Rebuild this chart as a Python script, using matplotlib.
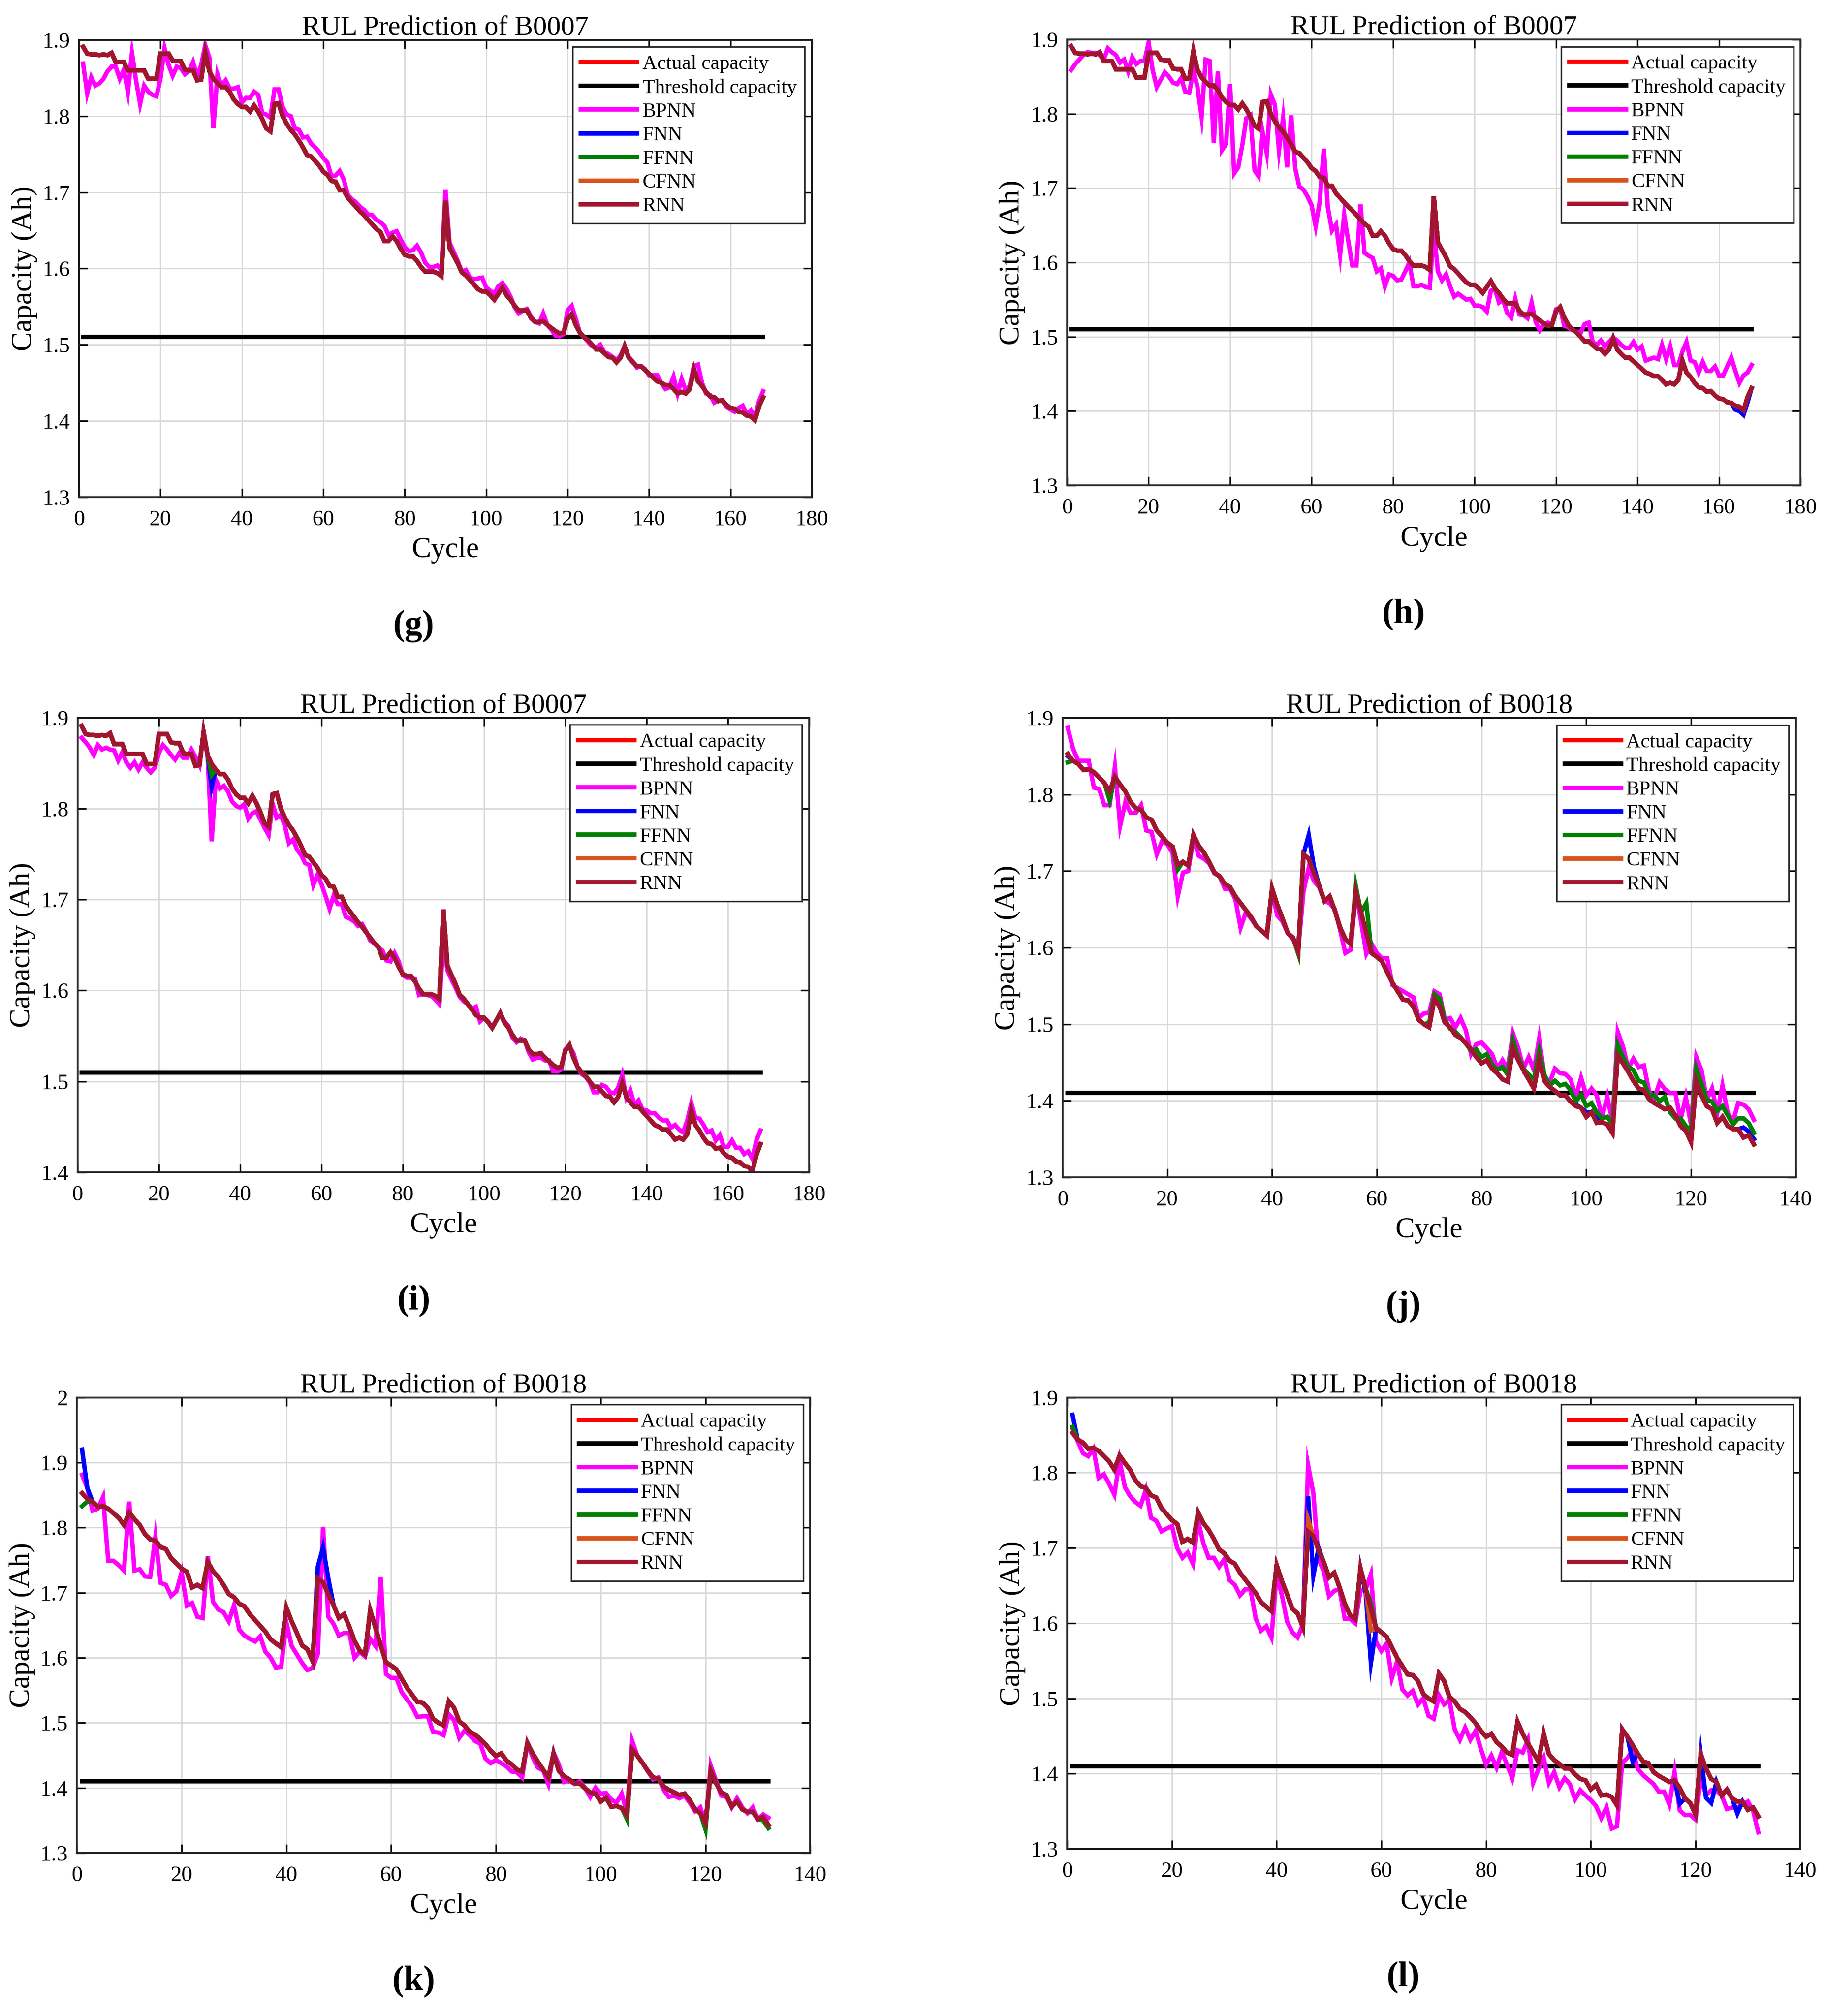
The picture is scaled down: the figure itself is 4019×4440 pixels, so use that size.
import matplotlib
matplotlib.use("Agg")
import matplotlib.pyplot as plt
from matplotlib.ticker import MultipleLocator, FuncFormatter

plt.rcParams['font.family'] = ['Liberation Serif', 'DejaVu Serif']

# ---------------- data ----------------
# measured capacity of battery B0007, cycles 1..168
cap_b0007 = [
    1.891, 1.882, 1.881, 1.881, 1.880, 1.881, 1.880, 1.883, 1.871, 1.871,
    1.871, 1.860, 1.860, 1.860, 1.860, 1.860, 1.849, 1.849, 1.849, 1.882,
    1.882, 1.882, 1.873, 1.872, 1.872, 1.861, 1.860, 1.860, 1.847, 1.848,
    1.884, 1.859, 1.849, 1.843, 1.838, 1.838, 1.832, 1.822, 1.816, 1.812,
    1.812, 1.806, 1.814, 1.806, 1.796, 1.784, 1.780, 1.816, 1.817, 1.800,
    1.790, 1.782, 1.776, 1.768, 1.759, 1.749, 1.747, 1.741, 1.735, 1.727,
    1.723, 1.715, 1.714, 1.703, 1.703, 1.693, 1.687, 1.681, 1.675, 1.670,
    1.664, 1.658, 1.652, 1.648, 1.636, 1.636, 1.642, 1.636, 1.626, 1.618,
    1.616, 1.616, 1.610, 1.602, 1.596, 1.596, 1.596, 1.594, 1.590, 1.689,
    1.627, 1.617, 1.607, 1.595, 1.591, 1.585, 1.579, 1.573, 1.570, 1.570,
    1.565, 1.559, 1.567, 1.575, 1.565, 1.559, 1.551, 1.545, 1.545, 1.545,
    1.535, 1.530, 1.530, 1.531, 1.526, 1.522, 1.518, 1.515, 1.516, 1.534,
    1.540, 1.526, 1.516, 1.510, 1.506, 1.500, 1.494, 1.494, 1.489, 1.484,
    1.483, 1.477, 1.483, 1.498, 1.483, 1.477, 1.472, 1.472, 1.467, 1.462,
    1.457, 1.452, 1.450, 1.447, 1.447, 1.442, 1.436, 1.438, 1.436, 1.442,
    1.468, 1.452, 1.446, 1.438, 1.432, 1.431, 1.426, 1.427, 1.421, 1.417,
    1.416, 1.412, 1.411, 1.407, 1.406, 1.401, 1.419, 1.431,
]

# measured capacity of battery B0018, cycles 1..132
cap_b0018 = [
    1.853, 1.844, 1.840, 1.832, 1.833, 1.829, 1.822, 1.815, 1.804, 1.823,
    1.813, 1.804, 1.790, 1.782, 1.780, 1.770, 1.767, 1.753, 1.745, 1.737,
    1.732, 1.708, 1.712, 1.707, 1.747, 1.733, 1.724, 1.712, 1.698, 1.693,
    1.683, 1.679, 1.667, 1.658, 1.649, 1.640, 1.628, 1.622, 1.616, 1.677,
    1.656, 1.638, 1.619, 1.613, 1.595, 1.722, 1.716, 1.697, 1.681, 1.661,
    1.667, 1.648, 1.626, 1.611, 1.605, 1.673, 1.646, 1.619, 1.593, 1.588,
    1.582, 1.568, 1.554, 1.543, 1.532, 1.531, 1.523, 1.506, 1.500, 1.496,
    1.533, 1.523, 1.502, 1.496, 1.486, 1.482, 1.475, 1.467, 1.457, 1.449,
    1.453, 1.442, 1.436, 1.428, 1.425, 1.469, 1.453, 1.440, 1.428, 1.416,
    1.453, 1.426, 1.418, 1.413, 1.407, 1.407, 1.399, 1.393, 1.391, 1.379,
    1.385, 1.371, 1.372, 1.369, 1.358, 1.459, 1.449, 1.438, 1.426, 1.416,
    1.414, 1.402, 1.397, 1.393, 1.389, 1.391, 1.381, 1.367, 1.361, 1.346,
    1.426, 1.407, 1.393, 1.389, 1.371, 1.379, 1.367, 1.363, 1.363, 1.352,
    1.355, 1.343,
]

threshold_b0007 = 1.51
threshold_b0018 = 1.41

# BPNN predictions, one list per panel
bpnn_g = [
    1.869, 1.830, 1.851, 1.840, 1.843, 1.849, 1.859, 1.865, 1.865, 1.849,
    1.861, 1.832, 1.883, 1.847, 1.816, 1.840, 1.832, 1.828, 1.826, 1.849,
    1.889, 1.867, 1.853, 1.865, 1.863, 1.855, 1.859, 1.871, 1.853, 1.867,
    1.893, 1.877, 1.784, 1.855, 1.840, 1.847, 1.836, 1.836, 1.838, 1.818,
    1.824, 1.824, 1.832, 1.828, 1.804, 1.802, 1.798, 1.835, 1.835, 1.812,
    1.802, 1.800, 1.784, 1.782, 1.772, 1.773, 1.764, 1.759, 1.753, 1.745,
    1.739, 1.721, 1.722, 1.728, 1.717, 1.697, 1.691, 1.687, 1.681, 1.677,
    1.671, 1.670, 1.664, 1.661, 1.656, 1.644, 1.647, 1.649, 1.638, 1.628,
    1.623, 1.624, 1.630, 1.621, 1.608, 1.602, 1.602, 1.604, 1.598, 1.703,
    1.634, 1.622, 1.610, 1.596, 1.598, 1.588, 1.586, 1.587, 1.588, 1.575,
    1.571, 1.567, 1.577, 1.581, 1.573, 1.563, 1.549, 1.541, 1.545, 1.547,
    1.537, 1.530, 1.528, 1.541, 1.526, 1.520, 1.512, 1.511, 1.514, 1.545,
    1.551, 1.534, 1.516, 1.510, 1.504, 1.498, 1.496, 1.500, 1.490, 1.488,
    1.484, 1.480, 1.486, 1.498, 1.484, 1.478, 1.470, 1.472, 1.468, 1.460,
    1.460, 1.460, 1.450, 1.442, 1.444, 1.458, 1.436, 1.455, 1.440, 1.446,
    1.472, 1.474, 1.450, 1.436, 1.434, 1.424, 1.427, 1.426, 1.419, 1.415,
    1.412, 1.417, 1.420, 1.409, 1.414, 1.405, 1.426, 1.439,
]

bpnn_h = [
    1.859, 1.867, 1.873, 1.879, 1.883, 1.882, 1.882, 1.879, 1.873, 1.888,
    1.883, 1.879, 1.869, 1.873, 1.857, 1.876, 1.867, 1.871, 1.871, 1.896,
    1.859, 1.836, 1.846, 1.856, 1.850, 1.842, 1.840, 1.848, 1.830, 1.829,
    1.859, 1.836, 1.796, 1.873, 1.871, 1.761, 1.857, 1.751, 1.759, 1.840,
    1.720, 1.728, 1.758, 1.794, 1.798, 1.724, 1.716, 1.775, 1.747, 1.826,
    1.812, 1.751, 1.794, 1.728, 1.798, 1.726, 1.702, 1.698, 1.689, 1.677,
    1.649, 1.682, 1.753, 1.674, 1.643, 1.651, 1.610, 1.664, 1.629, 1.596,
    1.596, 1.678, 1.613, 1.609, 1.606, 1.588, 1.592, 1.568, 1.584, 1.582,
    1.576, 1.577, 1.588, 1.600, 1.568, 1.568, 1.570, 1.567, 1.566, 1.643,
    1.588, 1.576, 1.584, 1.568, 1.554, 1.558, 1.554, 1.550, 1.551, 1.542,
    1.542, 1.540, 1.534, 1.562, 1.564, 1.546, 1.550, 1.532, 1.526, 1.551,
    1.530, 1.529, 1.525, 1.546, 1.520, 1.509, 1.517, 1.519, 1.517, 1.537,
    1.539, 1.515, 1.513, 1.509, 1.507, 1.505, 1.517, 1.519, 1.493, 1.489,
    1.495, 1.487, 1.493, 1.499, 1.495, 1.489, 1.485, 1.485, 1.493, 1.483,
    1.487, 1.468, 1.470, 1.472, 1.470, 1.489, 1.470, 1.487, 1.462, 1.462,
    1.480, 1.493, 1.468, 1.466, 1.452, 1.466, 1.454, 1.454, 1.460, 1.448,
    1.448, 1.460, 1.472, 1.454, 1.438, 1.448, 1.452, 1.462,
]

bpnn_i = [
    1.878, 1.873, 1.867, 1.859, 1.870, 1.865, 1.867, 1.865, 1.864, 1.853,
    1.862, 1.851, 1.845, 1.851, 1.843, 1.851, 1.845, 1.840, 1.845, 1.861,
    1.870, 1.865, 1.859, 1.854, 1.861, 1.856, 1.856, 1.865, 1.857, 1.848,
    1.884, 1.857, 1.764, 1.832, 1.822, 1.825, 1.819, 1.808, 1.803, 1.801,
    1.805, 1.789, 1.795, 1.797, 1.788, 1.779, 1.771, 1.805, 1.790, 1.793,
    1.781, 1.762, 1.766, 1.755, 1.749, 1.740, 1.738, 1.716, 1.727, 1.717,
    1.704, 1.690, 1.704, 1.695, 1.695, 1.681, 1.679, 1.676, 1.671, 1.673,
    1.665, 1.655, 1.652, 1.647, 1.644, 1.633, 1.632, 1.641, 1.632, 1.617,
    1.614, 1.614, 1.613, 1.595, 1.596, 1.595, 1.594, 1.590, 1.585, 1.653,
    1.622, 1.612, 1.603, 1.593, 1.588, 1.585, 1.580, 1.582, 1.566, 1.570,
    1.566, 1.559, 1.567, 1.574, 1.566, 1.561, 1.548, 1.543, 1.547, 1.545,
    1.532, 1.524, 1.526, 1.526, 1.523, 1.523, 1.511, 1.511, 1.513, 1.535,
    1.539, 1.531, 1.516, 1.508, 1.505, 1.499, 1.488, 1.488, 1.496, 1.494,
    1.488, 1.487, 1.493, 1.507, 1.482, 1.490, 1.474, 1.479, 1.469, 1.468,
    1.465, 1.465, 1.460, 1.457, 1.457, 1.449, 1.452, 1.447, 1.444, 1.457,
    1.476, 1.460, 1.459, 1.452, 1.444, 1.446, 1.435, 1.441, 1.428, 1.428,
    1.435, 1.427, 1.427, 1.420, 1.423, 1.415, 1.435, 1.446,
]

bpnn_j = [
    1.887, 1.860, 1.844, 1.844, 1.844, 1.809, 1.807, 1.786, 1.786, 1.836,
    1.759, 1.790, 1.776, 1.776, 1.786, 1.753, 1.751, 1.722, 1.739, 1.735,
    1.724, 1.667, 1.698, 1.700, 1.743, 1.720, 1.716, 1.710, 1.697, 1.693,
    1.677, 1.677, 1.663, 1.626, 1.646, 1.638, 1.628, 1.622, 1.617, 1.673,
    1.642, 1.634, 1.619, 1.611, 1.597, 1.673, 1.704, 1.687, 1.679, 1.661,
    1.658, 1.650, 1.623, 1.593, 1.597, 1.673, 1.634, 1.592, 1.605, 1.593,
    1.586, 1.586, 1.551, 1.547, 1.543, 1.539, 1.535, 1.508, 1.514, 1.515,
    1.543, 1.539, 1.506, 1.508, 1.496, 1.508, 1.492, 1.461, 1.474, 1.476,
    1.469, 1.461, 1.442, 1.453, 1.442, 1.488, 1.469, 1.442, 1.457, 1.440,
    1.481, 1.432, 1.424, 1.442, 1.436, 1.435, 1.428, 1.405, 1.430, 1.407,
    1.416, 1.407, 1.379, 1.405, 1.373, 1.490, 1.471, 1.442, 1.455, 1.444,
    1.446, 1.412, 1.403, 1.424, 1.415, 1.410, 1.410, 1.375, 1.405, 1.369,
    1.457, 1.440, 1.401, 1.416, 1.384, 1.420, 1.384, 1.373, 1.397, 1.395,
    1.389, 1.375,
]

bpnn_k = [
    1.881, 1.861, 1.826, 1.829, 1.847, 1.749, 1.749, 1.742, 1.734, 1.840,
    1.734, 1.736, 1.725, 1.724, 1.786, 1.715, 1.712, 1.695, 1.702, 1.731,
    1.680, 1.684, 1.663, 1.661, 1.756, 1.686, 1.674, 1.670, 1.656, 1.681,
    1.643, 1.634, 1.629, 1.625, 1.633, 1.609, 1.600, 1.585, 1.586, 1.654,
    1.618, 1.605, 1.592, 1.581, 1.584, 1.606, 1.801, 1.663, 1.652, 1.634,
    1.638, 1.638, 1.600, 1.609, 1.602, 1.629, 1.618, 1.724, 1.575, 1.569,
    1.569, 1.547, 1.536, 1.525, 1.509, 1.510, 1.510, 1.486, 1.485, 1.481,
    1.513, 1.504, 1.477, 1.488, 1.481, 1.472, 1.468, 1.445, 1.438, 1.443,
    1.438, 1.433, 1.425, 1.424, 1.416, 1.468, 1.447, 1.431, 1.427, 1.406,
    1.454, 1.436, 1.409, 1.411, 1.406, 1.410, 1.400, 1.386, 1.400, 1.391,
    1.392, 1.382, 1.377, 1.391, 1.362, 1.472, 1.449, 1.438, 1.425, 1.413,
    1.416, 1.397, 1.386, 1.388, 1.384, 1.388, 1.377, 1.364, 1.370, 1.345,
    1.434, 1.411, 1.388, 1.386, 1.370, 1.384, 1.370, 1.361, 1.370, 1.352,
    1.359, 1.354,
]

bpnn_l = [
    1.859, 1.842, 1.826, 1.822, 1.832, 1.793, 1.798, 1.785, 1.771, 1.816,
    1.781, 1.769, 1.761, 1.756, 1.777, 1.740, 1.736, 1.722, 1.726, 1.729,
    1.700, 1.687, 1.694, 1.679, 1.736, 1.706, 1.687, 1.687, 1.675, 1.685,
    1.657, 1.651, 1.637, 1.645, 1.645, 1.606, 1.590, 1.596, 1.581, 1.665,
    1.637, 1.602, 1.588, 1.581, 1.598, 1.810, 1.773, 1.685, 1.669, 1.636,
    1.643, 1.645, 1.606, 1.606, 1.600, 1.643, 1.645, 1.665, 1.575, 1.563,
    1.573, 1.527, 1.549, 1.512, 1.504, 1.510, 1.492, 1.500, 1.477, 1.473,
    1.504, 1.492, 1.498, 1.459, 1.445, 1.461, 1.445, 1.457, 1.433, 1.412,
    1.424, 1.408, 1.429, 1.412, 1.394, 1.431, 1.428, 1.445, 1.388, 1.406,
    1.421, 1.388, 1.402, 1.382, 1.394, 1.386, 1.366, 1.378, 1.371, 1.365,
    1.357, 1.341, 1.355, 1.327, 1.330, 1.414, 1.421, 1.431, 1.406, 1.398,
    1.392, 1.386, 1.376, 1.376, 1.359, 1.402, 1.351, 1.345, 1.345, 1.339,
    1.394, 1.372, 1.378, 1.378, 1.371, 1.353, 1.355, 1.355, 1.359, 1.363,
    1.351, 1.322,
]

# cycles where FNN / FFNN / CFNN visibly leave the measured curve
fnn_h = {164: 1.402, 165: 1.400, 166: 1.395, 167: 1.412}
fnn_i = {33: 1.824}
ffnn_i = {33: 1.837}
fnn_j = {1: 1.850, 47: 1.747, 48: 1.705, 98: 1.395, 100: 1.385, 102: 1.377,
         105: 1.362, 118: 1.372, 120: 1.352, 130: 1.365, 131: 1.360, 132: 1.350}
ffnn_j = {1: 1.842, 9: 1.792, 22: 1.702, 45: 1.592, 56: 1.680, 58: 1.658,
          70: 1.502, 71: 1.539, 72: 1.533, 73: 1.506, 74: 1.494, 75: 1.490,
          76: 1.483, 77: 1.475, 78: 1.465, 79: 1.467, 80: 1.457, 81: 1.461,
          82: 1.447, 83: 1.440, 84: 1.444, 85: 1.434, 86: 1.479, 87: 1.457,
          88: 1.442, 89: 1.434, 90: 1.428, 91: 1.465, 92: 1.434, 93: 1.420,
          94: 1.426, 95: 1.420, 96: 1.422, 97: 1.414, 98: 1.399, 99: 1.408,
          100: 1.393, 101: 1.397, 102: 1.385, 103: 1.377, 104: 1.379,
          105: 1.369, 106: 1.473, 107: 1.457, 108: 1.444, 109: 1.440,
          110: 1.426, 111: 1.424, 112: 1.407, 113: 1.407, 114: 1.399,
          115: 1.405, 116: 1.385, 117: 1.377, 118: 1.377, 119: 1.367,
          120: 1.361, 121: 1.442, 122: 1.422, 123: 1.401, 124: 1.399,
          125: 1.387, 126: 1.393, 127: 1.381, 128: 1.369, 129: 1.377,
          130: 1.377, 131: 1.371, 132: 1.358}
fnn_k = {1: 1.920, 2: 1.861, 46: 1.740, 47: 1.770, 48: 1.722}
ffnn_k = {1: 1.833, 2: 1.840, 105: 1.352, 120: 1.336, 131: 1.350, 132: 1.338}
fnn_l = {1: 1.877, 46: 1.769, 47: 1.663, 48: 1.700, 57: 1.640, 58: 1.547,
         59: 1.594, 108: 1.416, 117: 1.360, 122: 1.368, 123: 1.361, 128: 1.347}
ffnn_l = {1: 1.861, 58: 1.626}
cfnn_l = {46: 1.738, 58: 1.590}

series_names = ['Actual capacity', 'Threshold capacity', 'BPNN', 'FNN',
                'FFNN', 'CFNN', 'RNN']
series_colors = ['#ff0000', '#000000', '#ff00ff', '#0000ff', '#007f00',
                 '#d95319', '#a2142f']


def with_changes(base, changes):
    vals = list(base)
    for cyc, v in changes.items():
        vals[cyc - 1] = v
    return vals


panels = [
    # label, rect, battery, bpnn, fnn, ffnn, cfnn, xmax, ylim
    ('(g)', [0.0433, 0.7534, 0.4016, 0.2268], 'B0007', bpnn_g, {}, {}, {}, 180, (1.3, 1.9)),
    ('(h)', [0.5847, 0.7592, 0.4019, 0.2212], 'B0007', bpnn_h, fnn_h, {}, {}, 180, (1.3, 1.9)),
    ('(i)', [0.0425, 0.4185, 0.4009, 0.2255], 'B0007', bpnn_i, fnn_i, ffnn_i, {}, 180, (1.4, 1.9)),
    ('(j)', [0.5822, 0.4160, 0.4018, 0.2279], 'B0018', bpnn_j, fnn_j, ffnn_j, {}, 140, (1.3, 1.9)),
    ('(k)', [0.0421, 0.0809, 0.4019, 0.2259], 'B0018', bpnn_k, fnn_k, ffnn_k, {}, 140, (1.3, 2.0)),
    ('(l)', [0.5848, 0.0829, 0.4016, 0.2239], 'B0018', bpnn_l, fnn_l, ffnn_l, cfnn_l, 140, (1.3, 1.9)),
]

fig = plt.figure(figsize=(40.19, 44.40), dpi=100)

for label, rect, battery, bpnn, fnn_d, ffnn_d, cfnn_d, xmax, ylim in panels:
    ax = fig.add_axes(rect)
    actual = cap_b0007 if battery == 'B0007' else cap_b0018
    thr = threshold_b0007 if battery == 'B0007' else threshold_b0018
    cycles = list(range(1, len(actual) + 1))

    ys = [actual, [thr] * len(actual), bpnn,
          with_changes(actual, fnn_d), with_changes(actual, ffnn_d),
          with_changes(actual, cfnn_d), actual]
    for name, color, y in zip(series_names, series_colors, ys):
        ax.plot(cycles, y, color=color, lw=7, label=name,
                solid_joinstyle='miter')

    ax.set_xlim(0, xmax)
    ax.set_ylim(*ylim)
    ax.xaxis.set_major_locator(MultipleLocator(20))
    ax.yaxis.set_major_locator(MultipleLocator(0.1))
    ax.yaxis.set_major_formatter(FuncFormatter(lambda v, p: f'{round(v, 1):g}'))
    ax.grid(True, color='#d9d9d9', lw=2.2)
    ax.tick_params(direction='in', length=14, width=2.5, labelsize=35,
                   top=True, right=True, pad=20)
    ax.tick_params(axis='y', pad=14)
    for sp in ax.spines.values():
        sp.set_linewidth(3)
        sp.set_color('#262626')
    ax.set_title(f'RUL Prediction of {battery}', fontsize=44, pad=8)
    ax.set_xlabel('Cycle', fontsize=46, labelpad=12)
    ax.set_ylabel('Capacity (Ah)', fontsize=46, labelpad=8)

    leg = ax.legend(loc='upper right', fontsize=32, handlelength=2.8,
                    handletextpad=0.25, labelspacing=0.27, borderpad=0.4,
                    borderaxespad=0.35, fancybox=False, framealpha=1)
    leg.get_frame().set_edgecolor('#262626')
    leg.get_frame().set_linewidth(2.5)
    for ln in leg.get_lines():
        ln.set_linewidth(7)

    cx = 0.2267 if rect[0] < 0.5 else 0.7690
    cy = rect[1] - 0.064
    fig.text(cx, cy, label, fontsize=56, fontweight='bold', ha='center', va='center')

fig.savefig('out.png', dpi=100)
